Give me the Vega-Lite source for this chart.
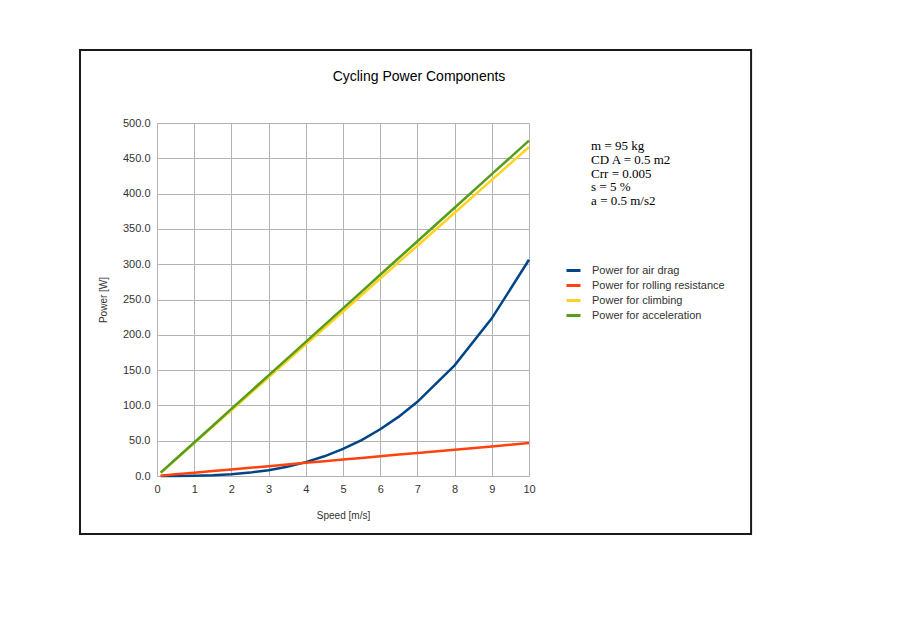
{
  "$schema": "https://vega.github.io/schema/vega-lite/v6.json",
  "autosize": {"type": "none"},
  "width": 372,
  "height": 353,
  "padding": {"left": 157, "top": 123, "right": 371, "bottom": 164},
  "background": "#ffffff",
  "title": {
    "text": "Cycling Power Components",
    "anchor": "middle",
    "frame": "group",
    "dx": 76,
    "offset": -35,
    "fontSize": 14,
    "fontWeight": "normal",
    "font": "Liberation Sans",
    "color": "#000000"
  },
  "config": {
    "view": {"stroke": null},
    "axis": {
      "labelFont": "Liberation Sans",
      "titleFont": "Liberation Sans",
      "labelFontSize": 11,
      "titleFontSize": 10,
      "titleFontWeight": "normal",
      "labelColor": "#333333",
      "titleColor": "#333333",
      "gridColor": "#b3b3b3",
      "gridOpacity": 1,
      "domainColor": "#b3b3b3",
      "ticks": false,
      "labelOverlap": false,
      "labelFlush": false
    },
    "legend": {
      "labelFont": "Liberation Sans",
      "labelFontSize": 11,
      "labelColor": "#333333"
    }
  },
  "datasets": {
    "power": [
      {"speed": 0.1, "Power for air drag": 0.0, "Power for rolling resistance": 0.47, "Power for climbing": 4.66, "Power for acceleration": 4.75},
      {"speed": 0.5, "Power for air drag": 0.04, "Power for rolling resistance": 2.33, "Power for climbing": 23.3, "Power for acceleration": 23.75},
      {"speed": 1, "Power for air drag": 0.31, "Power for rolling resistance": 4.66, "Power for climbing": 46.6, "Power for acceleration": 47.5},
      {"speed": 1.5, "Power for air drag": 1.03, "Power for rolling resistance": 6.99, "Power for climbing": 69.9, "Power for acceleration": 71.25},
      {"speed": 2, "Power for air drag": 2.45, "Power for rolling resistance": 9.32, "Power for climbing": 93.2, "Power for acceleration": 95.0},
      {"speed": 2.5, "Power for air drag": 4.79, "Power for rolling resistance": 11.65, "Power for climbing": 116.5, "Power for acceleration": 118.75},
      {"speed": 3, "Power for air drag": 8.27, "Power for rolling resistance": 13.98, "Power for climbing": 139.8, "Power for acceleration": 142.5},
      {"speed": 3.5, "Power for air drag": 13.13, "Power for rolling resistance": 16.31, "Power for climbing": 163.1, "Power for acceleration": 166.25},
      {"speed": 4, "Power for air drag": 19.6, "Power for rolling resistance": 18.64, "Power for climbing": 186.4, "Power for acceleration": 190.0},
      {"speed": 4.5, "Power for air drag": 27.91, "Power for rolling resistance": 20.97, "Power for climbing": 209.7, "Power for acceleration": 213.75},
      {"speed": 5, "Power for air drag": 38.28, "Power for rolling resistance": 23.3, "Power for climbing": 233.0, "Power for acceleration": 237.5},
      {"speed": 5.5, "Power for air drag": 50.95, "Power for rolling resistance": 25.63, "Power for climbing": 256.3, "Power for acceleration": 261.25},
      {"speed": 6, "Power for air drag": 66.15, "Power for rolling resistance": 27.96, "Power for climbing": 279.6, "Power for acceleration": 285.0},
      {"speed": 6.5, "Power for air drag": 84.1, "Power for rolling resistance": 30.29, "Power for climbing": 302.9, "Power for acceleration": 308.75},
      {"speed": 7, "Power for air drag": 105.04, "Power for rolling resistance": 32.62, "Power for climbing": 326.2, "Power for acceleration": 332.5},
      {"speed": 8, "Power for air drag": 156.8, "Power for rolling resistance": 37.28, "Power for climbing": 372.8, "Power for acceleration": 380.0},
      {"speed": 9, "Power for air drag": 223.26, "Power for rolling resistance": 41.94, "Power for climbing": 419.4, "Power for acceleration": 427.5},
      {"speed": 10, "Power for air drag": 306.25, "Power for rolling resistance": 46.6, "Power for climbing": 466.0, "Power for acceleration": 475.0}
    ]
  },
  "layer": [
    {
      "data": {"name": "power"},
      "transform": [
        {"fold": ["Power for air drag", "Power for rolling resistance", "Power for climbing", "Power for acceleration"], "as": ["series", "power"]}
      ],
      "mark": {"type": "line", "strokeWidth": 2.5},
      "encoding": {
        "x": {
          "field": "speed", "type": "quantitative",
          "scale": {"domain": [0, 10], "nice": false, "zero": false},
          "axis": {"title": "Speed [m/s]", "values": [0,1,2,3,4,5,6,7,8,9,10], "labelPadding": 7, "titlePadding": 16}
        },
        "y": {
          "field": "power", "type": "quantitative",
          "scale": {"domain": [0, 500], "nice": false},
          "axis": {"title": "Power [W]", "values": [0,50,100,150,200,250,300,350,400,450,500], "format": ".1f", "labelPadding": 7, "titlePadding": 14}
        },
        "color": {
          "field": "series", "type": "nominal",
          "scale": {
            "domain": ["Power for air drag", "Power for rolling resistance", "Power for climbing", "Power for acceleration"],
            "range": ["#004586", "#ff420e", "#ffd320", "#579d1c"]
          },
          "legend": {
            "title": null,
            "orient": "none",
            "legendX": 408,
            "legendY": 139,
            "symbolType": "stroke",
            "symbolStrokeWidth": 3,
            "symbolSize": 196,
            "rowPadding": 0,
            "labelOffset": 10
          }
        },
        "order": {"field": "series"}
      }
    },
    {
      "data": {"values": [{}]},
      "mark": {"type": "text", "align": "left", "baseline": "top", "font": "Liberation Serif", "fontSize": 13, "lineHeight": 13.7, "color": "#000000"},
      "encoding": {
        "x": {
          "datum": 11.67, "type": "quantitative",
          "scale": {"domain": [0, 10], "nice": false, "zero": false},
          "axis": {"title": "Speed [m/s]", "values": [0,1,2,3,4,5,6,7,8,9,10], "labelPadding": 7, "titlePadding": 16}
        },
        "y": {
          "datum": 475.5, "type": "quantitative",
          "scale": {"domain": [0, 500], "nice": false},
          "axis": {"title": "Power [W]", "values": [0,50,100,150,200,250,300,350,400,450,500], "format": ".1f", "labelPadding": 7, "titlePadding": 14}
        },
        "text": {"value": ["m = 95 kg", "CD A = 0.5 m2", "Crr = 0.005", "s = 5 %", "a = 0.5 m/s2"]}
      }
    },
    {
      "data": {"values": [{}]},
      "mark": {"type": "rect", "fill": null, "stroke": "#1a1a1a", "strokeWidth": 2},
      "encoding": {
        "x": {
          "datum": -2.07, "type": "quantitative",
          "scale": {"domain": [0, 10], "nice": false, "zero": false},
          "axis": {"title": "Speed [m/s]", "values": [0,1,2,3,4,5,6,7,8,9,10], "labelPadding": 7, "titlePadding": 16}
        },
        "x2": {"datum": 15.97},
        "y": {
          "datum": 603.4, "type": "quantitative",
          "scale": {"domain": [0, 500], "nice": false},
          "axis": {"title": "Power [W]", "values": [0,50,100,150,200,250,300,350,400,450,500], "format": ".1f", "labelPadding": 7, "titlePadding": 14}
        },
        "y2": {"datum": -82.15}
      }
    }
  ]
}
